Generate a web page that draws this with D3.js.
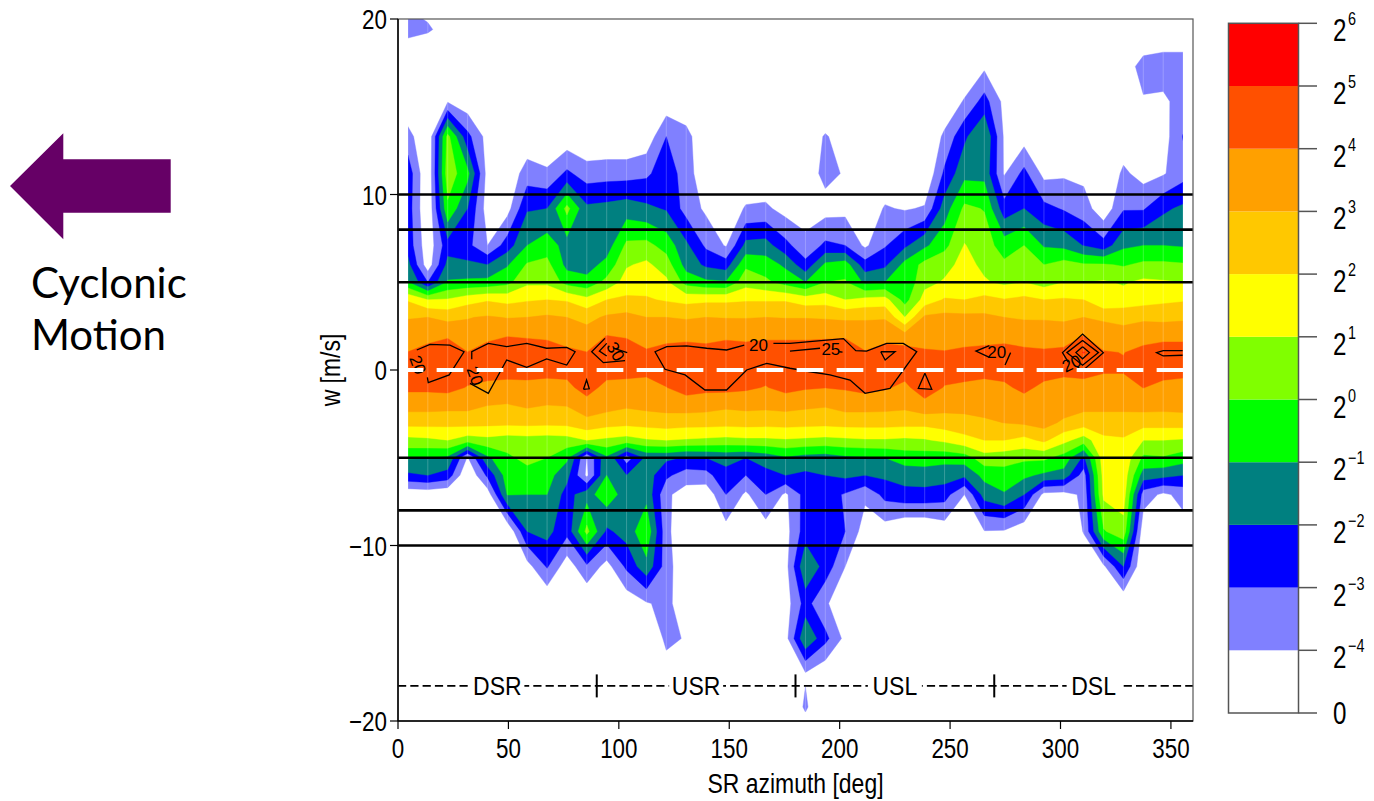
<!DOCTYPE html>
<html>
<head>
<meta charset="utf-8">
<script src="https://cdn.jsdelivr.net/npm/d3@7"></script>
<style>
  body { margin: 0; background: #fff; }
  text { font-family: "Liberation Sans", Arial, sans-serif; fill: #000; }
</style>
</head>
<body>
<svg id="chart" width="1374" height="801"></svg>
<script>
// grid column centres (deg) and grid rows (m/s), top to bottom
const azimuths = [4.5, 13.5, 22.5, 31.5, 40.5, 49.5, 58.5, 67.5, 76.5, 85.5,
  94.5, 103.5, 112.5, 121.5, 130.5, 139.5, 148.5, 157.5, 166.5, 175.5,
  184.5, 193.5, 202.5, 211.5, 220.5, 229.5, 238.5, 247.5, 256.5, 265.5,
  274.5, 283.5, 292.5, 301.5, 310.5, 319.5, 328.5, 337.5, 346.5, 355.5];
const wRows = [21.4, 19.4, 17.3, 15.3, 13.3, 11.2, 9.2, 7.1, 6, 5, 4, 3, 2, 1, 0,
  -1, -2, -3, -4, -5, -6, -7.1, -9.2, -11.2, -13.3, -15.3, -17.3, -19.2, -21.4];

// log2(frequency) + 5, one row per wRows entry
const densityGrid = [
  [0.8,0.6,0,0,0,0,0,0,0,0, 0,0,0,0,0,0,0,0,0,0, 0,0,0,0,0,0,0,0,0,0, 0,0,0,0,0,0,0,0,0,0],
  [1.3,1.1,0.7,0,0,0,0,0,0,0, 0,0,0,0,0,0,0,0,0,0, 0,0,0,0,0,0,0,0,0,0, 0,0,0,0,0,0,0,0,0.2,0.2],
  [0,0,0,0,0,0,0,0,0,0, 0,0,0,0,0,0,0,0,0,0, 0,0,0,0,0,0,0,0,0.1,0.8, 0,0,0,0,0,0,0.4,1.4,1.5,1.5],
  [0,0,0.9,0.3,0,0,0,0,0,0, 0,0,0,0.3,0.1,0,0,0,0,0, 0,0,0,0,0,0,0,0.2,1.1,2.4, 0.7,0,0,0,0,0,0,0.9,0.8,1.4],
  [1.4,0,5.3,2.3,0.6,0,0.2,0,0.3,0, 0,0,0.3,2.0,1.4,0,0,0,0,0, 0.3,1.1,0.5,0,0,0,0,1.2,2.8,4.0, 0.85,0.5,0,0,0,0,0.3,0.2,0.5,2.05],
  [2.6,0,5.6,4.3,0.6,0.2,1.5,1.2,2.2,1.5, 1.6,1.6,1.8,2.6,1.5,0.2,0,0.2,0.1,0, 0.4,1.3,0.9,0,0.2,0,0,2.2,3.7,3.7, 0.9,2.3,0.7,0.85,0.7,0,1.2,0.6,0.9,1.6],
  [2.5,0,4.8,3.0,0.5,0.6,2.9,3.0,5.3,3.2, 3.3,3.5,3.2,2.9,1.6,0.8,0.3,1.1,1.2,0.6, 0.5,0.6,0.7,0.2,1.1,0.9,1.1,3.5,5.2,4.95, 2.4,3.0,2.3,1.9,1.5,0.3,1.9,1.9,2.8,3.2],
  [2.6,0.3,2.6,2.3,1.0,2.5,4.0,4.5,3.6,3.8, 3.5,5.2,5.3,4.6,3.2,1.8,0.9,3.3,3.4,2.3, 1.3,2.2,2.0,0.8,1.9,2.8,3.8,4.7,6.05,5.5, 4.5,5.0,3.9,3.7,2.95,2.4,3.8,4.0,4.0,3.9],
  [3.3,0.4,3.3,3.2,3.0,3.9,5.1,5.3,3.7,3.6, 4.3,5.9,6.2,5.5,3.6,2.8,2.5,4.8,4.5,3.8, 2.3,4.2,4.5,2.4,2.8,4.3,5.3,5.7,6.3,5.8, 5.2,5.5,5.0,5.4,5.1,5.1,4.9,5.2,5.2,5.1],
  [4.1,2.0,4.1,4.2,4.3,4.7,5.8,5.8,4.6,4.3, 5.3,6.4,6.6,6.2,4.6,4.2,4.1,5.6,5.2,4.6, 4.0,5.0,5.1,3.8,4.0,4.2,5.7,6.1,6.6,6.1, 5.8,6.0,5.6,6.0,6.0,6.1,5.9,6.2,6.1,6.0],
  [6.9,6.0,6.1,6.6,6.9,6.7,6.9,7.0,6.9,6.3, 7.0,7.2,7.1,6.9,6.7,6.8,6.8,6.9,6.9,6.9, 6.5,6.6,6.0,6.3,6.4,4.6,6.4,7.1,7.0,7.3, 7.05,7.25,7.0,7.1,7.0,6.1,6.4,6.6,6.8,6.9],
  [7.95,8.0,7.7,7.95,8.1,7.95,8.0,8.15,8.0,7.7, 8.15,8.3,8.0,8.0,7.9,8.0,7.95,7.95,8.0,7.95, 7.95,7.9,7.8,7.9,7.9,6.0,8.2,8.3,8.25,8.2, 8.0,7.9,7.9,7.8,8.0,7.85,7.7,7.8,7.7,7.8],
  [8.4,8.7,8.88,8.4,8.76,8.94,8.88,8.82,8.58,8.4, 8.98,8.88,8.52,8.7,8.76,8.7,8.82,8.76,8.82,8.82, 8.82,8.85,8.88,8.46,8.7,8.3,8.52,8.46,8.58,8.64, 8.7,8.58,8.52,8.58,8.98,8.46,8.35,8.64,8.76,8.76],
  [9.02,9.3,9.48,9.02,9.36,9.54,9.48,9.42,9.18,9.02, 9.6,9.48,9.12,9.3,9.36,9.3,9.42,9.36,9.42,9.42, 9.42,9.45,9.48,9.06,9.3,9.42,9.12,9.06,9.18,9.24, 9.3,9.18,9.12,9.18,10.05,9.06,8.98,9.24,9.36,9.36],
  [9.35,9.5,9.5,9.4,9.4,9.45,9.4,9.35,9.3,9.3, 9.4,9.4,9.2,9.4,9.5,9.45,9.45,9.4,9.4,9.45, 9.45,9.4,9.45,9.45,9.4,9.35,9.5,9.35,9.3,9.3, 9.3,9.35,9.35,9.2,9.25,9.1,9.1,9.4,9.35,9.3],
  [9.2,9.2,9.3,8.95,8.75,8.6,8.7,8.6,8.75,9.4, 8.7,8.6,8.7,8.98,9.4,9.25,9.3,9.15,8.95,9.3, 9.1,9.02,9.1,9.3,9.1,8.8,9.5,8.95,8.85,8.7, 8.85,9.2,8.8,8.7,8.75,8.6,8.6,9.02,8.75,8.65],
  [8.4,8.4,8.35,8.3,8.02,7.95,8.15,8.0,8.05,8.6, 8.4,8.15,8.3,8.4,8.5,8.4,8.2,8.3,8.25,8.35, 8.2,8.1,8.4,8.4,8.35,8.25,8.7,8.4,8.4,8.5, 8.6,8.6,8.55,8.6,8.3,8.3,8.3,8.4,8.35,8.4],
  [7.35,7.35,7.3,7.4,7.3,7.25,7.3,7.25,7.3,7.7, 7.4,7.3,7.4,7.5,7.4,7.4,7.35,7.4,7.35,7.4, 7.35,7.3,7.4,7.4,7.4,7.35,7.3,7.5,7.6,7.8, 8.02,8.15,8.4,7.8,7.5,7.5,7.5,7.4,7.4,7.45],
  [5.7,5.8,6.0,5.5,5.7,5.5,5.6,5.5,5.6,6.0, 5.8,5.6,5.9,6.0,5.9,5.8,5.7,5.8,5.8,5.9, 5.8,5.7,5.8,5.9,5.9,5.8,5.9,6.2,6.7,7.0, 7.0,6.7,7.2,6.3,5.5,6.8,6.9,6.0,6.0,5.9],
  [4.1,4.0,3.8,0.9,3.8,4.8,5.3,5.0,4.2,0.95, 3.8,1.5,3.2,3.2,2.9,3.0,3.2,3.0,3.4,3.9, 3.6,3.5,3.8,3.9,4.0,4.4,4.4,4.3,4.5,5.6, 5.4,5.2,5.2,4.6,2.8,6.6,6.7,4.8,4.9,4.5],
  [2.8,3.0,2.6,0,2.2,4.5,4.6,4.4,3.3,0.8, 4.0,3.0,3.5,2.2,1.5,1.6,2.8,2.0,2.7,3.0, 2.8,3.0,3.2,3.0,3.2,3.5,3.6,3.5,3.2,4.3, 4.6,4.2,3.8,3.6,1.5,6.4,6.6,3.5,3.3,3.0],
  [0.2,0.3,0.1,0,0.4,4.05,4.0,4.0,2.6,3.6, 4.6,3.5,3.7,1.2,0.5,0.3,2.0,0.8,2.0,0.8, 2.4,2.4,1.9,1.2,2.3,2.6,2.6,2.4,1.0,3.4, 3.9,3.0,0.7,0.6,1.2,6.2,6.5,1.5,0.8,1.3],
  [0,0,0,0,0,0,3.0,3.3,2.3,5.3, 2.8,3.4,4.8,1.3,0,0,0.6,0,0.5,0.6, 2.5,2.5,2.0,0.5,0.5,0,0,0.4,0,0.95, 0.9,0.3,0,0,1.05,4.9,5.6,0.3,0,0.6],
  [0,0,0,0,0,0,0.6,2.1,0.4,1.8, 0.6,2.2,3.7,1.5,0,0,0,0,0,0.6, 3.9,2.6,1.0,0,0,0,0,0,0,0, 0,0,0,0,0.3,0.8,3.0,0,0,0],
  [0,0,0,0,0,0,0,0,0,0, 0,0.3,0.9,1.3,0.3,0,0,0,0,0.5, 2.4,1.1,0.5,0,0,0,0,0,0,0, 0,0,0,0,0,0,0,0,0,0],
  [0,0,0,0,0,0,0,0,0,0, 0,0,0.3,1.15,0.95,0,0,0,0,0.6, 3.9,2.3,0.7,0,0,0,0,0,0,0, 0,0,0,0,0,0,0,0,0,0],
  [0,0,0,0,0,0,0,0,0,0, 0,0,0,0.7,0.2,0,0,0,0,0.2, 0.9,0.2,0,0,0,0,0,0,0,0, 0,0,0,0,0,0,0,0,0,0],
  [0,0,0,0,0,0,0,0,0,0, 0,0,0,0,0,0,0,0,0,0, 1.15,0,0,0,0,0,0,0,0,0, 0,0,0,0,0,0,0,0,0,0],
  [0,0,0,0,0,0,0,0,0,0, 0,0,0,0,0,0,0,0,0,0, 0,0,0,0,0,0,0,0,0,0, 0,0,0,0,0,0,0,0,0,0]
];

// filled contour levels: 2^-4 ... 2^5 (as log2 + 5) and their colours
const levels = [1, 2, 3, 4, 5, 6, 7, 8, 9, 10];
const bandColors = ["#8080ff", "#0000ff", "#008080", "#00ff00", "#80ff00",
  "#ffff00", "#ffc800", "#ffa000", "#ff5000", "#ff0000"];
const legendExponents = [-4, -3, -2, -1, 0, 1, 2, 3, 4, 5, 6];

// black overlay contours, [azimuth, w]
const contourLines = [
  [[8.5,1.14],[14.5,1.46],[23.5,1.42],[29.9,1.04],[23.2,-0.28],[13.7,-0.72],[13.3,-0.42]],
  [[33.4,0.61],[33.4,1.04],[40.9,1.52],[49.2,1.33],[58.3,1.52],[67.3,1.24],[76.4,1.29],[80.2,1.04],
   [76.4,0.28],[67.3,0.63],[58.3,0.15],[49.2,0.57],[40.9,-1.33],[32.6,-0.76]],
  [[84.0,-1.1],[85.4,-0.57],[86.6,-1.07],[84.0,-1.1]],
  [[93.7,1.8],[87.7,1.04],[93.0,0.42],[102.8,0.53]],
  [[103.8,0.99],[97.5,1.24]],
  [[94.5,1.52],[91.2,1.08],[94.5,0.8]],
  [[170,1.52],[177.5,1.52],[201.7,1.79],[207.3,1.1],[212.2,1.08],[221.3,1.52],[228.8,1.52],[234.9,1.04],
   [222.8,-1.05],[211.5,-1.33],[204.7,-0.57],[195.6,-0.28],[186.6,-0.1],[177.5,0.1],[167,0.38],[157.9,0],
   [148.8,-1.14],[139,-1.14],[130,-0.28],[120.9,0.04],[116.4,1.04],[121.7,1.33],[130.7,1.37],[139.8,1.24],
   [148.8,1.14],[156.8,1.42]],
  [[177.5,1.08],[191.1,1.24]],
  [[199.8,1.04],[201.3,1.02]],
  [[218.6,1.04],[225.1,1.04],[220.6,0.57],[218.6,1.04]],
  [[238.6,-0.19],[235.6,-1.05],[241.7,-1.1],[238.6,-0.19]],
  [[267.8,1.39],[261.7,1.08],[267.8,0.72]],
  [[277.4,0.99],[274.9,0.28]],
  [[303.5,0.45],[300.9,0.99],[310,2.05],[319.4,0.99],[310,-0.04],[307.5,0.2]],
  [[310,1.68],[317.2,0.99],[310,0.27],[302.9,0.99],[310,1.68]],
  [[310,1.33],[313.1,0.99],[310,0.64],[307.0,0.99],[310,1.33]],
  [[355.3,1.1],[346.5,1.1],[343.5,0.99],[346.5,0.8],[355.3,0.84]]
];
const contourLabels = [
  { text: "20", az: 9.0, w: 0.3, rot: 70 },
  { text: "20", az: 34.9, w: -0.34, rot: 70 },
  { text: "30", az: 98.6, w: 1.05, rot: 60 },
  { text: "20", az: 163.2, w: 1.42, rot: 0 },
  { text: "25", az: 196.0, w: 1.2, rot: 0 },
  { text: "20", az: 271.1, w: 1.04, rot: 0 },
  { text: "20", az: 305.0, w: 0.38, rot: -25 }
];

const xTicks = [0, 50, 100, 150, 200, 250, 300, 350];
const yTicks = [-20, -10, 0, 10, 20];
const refLines = [10, 8, 5, -5, -8, -10];
const sectorNames = ["DSR", "USR", "USL", "DSL"];
const sectorCentres = [45, 135, 225, 315];
const sectorBounds = [90, 180, 270];
const sectorW = -18;

const svg = d3.select("#chart");
const x = d3.scaleLinear().domain([0, 360]).range([398, 1193]);
const y = d3.scaleLinear().domain([-20, 20]).range([721, 19]);

function label(g, tx, ty, txt, size, sx, anchor) {
  return g.append("text")
    .attr("transform", `translate(${tx},${ty}) scale(${sx},1)`)
    .attr("text-anchor", anchor || "middle")
    .style("font-size", size + "px")
    .text(txt);
}

// clip to the data extent
svg.append("clipPath").attr("id", "dataClip")
  .append("rect")
  .attr("x", x(azimuths[0])).attr("y", y(20))
  .attr("width", x(azimuths[azimuths.length - 1]) - x(azimuths[0]))
  .attr("height", y(-20) - y(20));

// filled contours
const nx = azimuths.length, ny = wRows.length;
const gx = d3.scaleLinear().domain([0.5, nx - 0.5]).range([azimuths[0], azimuths[nx - 1]]);
const gy = d3.scaleLinear().domain(wRows.map((d, j) => j + 0.5)).range(wRows);
const proj = d3.geoTransform({
  point: function(px, py) { this.stream.point(x(gx(px)), y(gy(py))); }
});
const path = d3.geoPath(proj);
const bands = d3.contours().size([nx, ny]).thresholds(levels)(densityGrid.flat());

const plot = svg.append("g").attr("clip-path", "url(#dataClip)");
plot.selectAll("path.band")
  .data(bands)
  .enter().append("path")
  .attr("class", "band")
  .attr("d", path)
  .attr("fill", (d, i) => bandColors[i])
  .attr("stroke", (d, i) => bandColors[i])
  .attr("stroke-width", 0.4);

// faint seams at the grid columns
plot.selectAll("line.seam")
  .data(azimuths)
  .enter().append("line")
  .attr("class", "seam")
  .attr("x1", d => x(d)).attr("x2", d => x(d))
  .attr("y1", y(20)).attr("y2", y(-20))
  .attr("stroke", "#fff").attr("stroke-opacity", 0.22).attr("stroke-width", 1);

// black contour lines and labels
const line = d3.line().x(d => x(d[0])).y(d => y(d[1]));
plot.selectAll("path.cline")
  .data(contourLines)
  .enter().append("path")
  .attr("class", "cline")
  .attr("d", line)
  .attr("fill", "none").attr("stroke", "#000").attr("stroke-width", 1.3);

contourLabels.forEach(d => {
  svg.append("text")
    .attr("transform", `translate(${x(d.az)},${y(d.w)}) rotate(${d.rot})`)
    .attr("text-anchor", "middle").attr("dy", "0.35em")
    .style("font-size", "17px")
    .text(d.text);
});

// reference lines
svg.selectAll("line.ref")
  .data(refLines)
  .enter().append("line")
  .attr("x1", x(0)).attr("x2", x(360))
  .attr("y1", d => y(d)).attr("y2", d => y(d))
  .attr("stroke", "#000").attr("stroke-width", 2.6);

// zero line
svg.append("line")
  .attr("x1", x(azimuths[0])).attr("x2", x(azimuths[nx - 1]))
  .attr("y1", y(0)).attr("y2", y(0))
  .attr("stroke", "#fff").attr("stroke-width", 4)
  .attr("stroke-dasharray", "26.7 13.3").attr("stroke-dashoffset", 11.3);

// storm-relative sectors along w = -18
const sy = y(sectorW);
svg.append("line")
  .attr("x1", x(0)).attr("x2", x(360)).attr("y1", sy).attr("y2", sy)
  .attr("stroke", "#000").attr("stroke-width", 1.6).attr("stroke-dasharray", "8.2 4.1");
sectorCentres.forEach((c, i) => {
  svg.append("rect")
    .attr("x", x(c) - 27).attr("y", sy - 14).attr("width", 54).attr("height", 28)
    .attr("fill", "#fff");
  label(svg, x(c), sy + 9, sectorNames[i], 25, 0.92);
});
svg.selectAll("line.sect")
  .data(sectorBounds)
  .enter().append("line")
  .attr("x1", d => x(d)).attr("x2", d => x(d))
  .attr("y1", sy - 11.5).attr("y2", sy + 11.5)
  .attr("stroke", "#000").attr("stroke-width", 2);

// frame and axes
svg.append("rect")
  .attr("x", x(0)).attr("y", y(20)).attr("width", x(360) - x(0)).attr("height", y(-20) - y(20))
  .attr("fill", "none").attr("stroke", "#555").attr("stroke-width", 1.2);
svg.append("line").attr("x1", x(0)).attr("x2", x(0)).attr("y1", y(20)).attr("y2", y(-20))
  .attr("stroke", "#000").attr("stroke-width", 1.5);
svg.append("line").attr("x1", x(0)).attr("x2", x(360)).attr("y1", y(-20)).attr("y2", y(-20))
  .attr("stroke", "#000").attr("stroke-width", 1.5);

xTicks.forEach(t => {
  svg.append("line").attr("x1", x(t)).attr("x2", x(t)).attr("y1", y(-20)).attr("y2", y(-20) + 8)
    .attr("stroke", "#000").attr("stroke-width", 1.2);
  label(svg, x(t), 758, String(t), 28, 0.8);
});
yTicks.forEach(t => {
  svg.append("line").attr("x1", x(0) - 8).attr("x2", x(0)).attr("y1", y(t)).attr("y2", y(t))
    .attr("stroke", "#000").attr("stroke-width", 1.2);
  label(svg, 387, y(t) + 10, t < 0 ? "\u2212" + Math.abs(t) : String(t), 28, 0.8, "end");
});
label(svg, 795.5, 793, "SR azimuth [deg]", 28, 0.82);
svg.append("text")
  .attr("transform", "translate(340,370) rotate(-90) scale(0.82,1)")
  .attr("text-anchor", "middle").style("font-size", "28px")
  .text("w [m/s]");

// colour bar
const cb = d3.scaleLinear().domain([0, 11]).range([713, 23.3]);
const cbColors = ["#ffffff"].concat(bandColors);
cbColors.forEach((c, k) => {
  svg.append("rect")
    .attr("x", 1228.5).attr("y", cb(k + 1)).attr("width", 70).attr("height", cb(k) - cb(k + 1))
    .attr("fill", c);
});
svg.append("rect")
  .attr("x", 1228.5).attr("y", cb(11)).attr("width", 70).attr("height", cb(0) - cb(11))
  .attr("fill", "none").attr("stroke", "#555").attr("stroke-width", 1.5);
d3.range(12).forEach(k => {
  svg.append("line").attr("x1", 1298.5).attr("x2", 1317).attr("y1", cb(k)).attr("y2", cb(k))
    .attr("stroke", "#555").attr("stroke-width", 1.5);
});
label(svg, 1333, cb(0) + 11, "0", 31, 0.78, "start");
legendExponents.forEach((e, k) => {
  const ty = cb(k + 1);
  label(svg, 1333, ty + 18, "2", 31, 0.78, "start");
  label(svg, 1348, ty + 2, e < 0 ? "\u2212" + Math.abs(e) : String(e), 18, 0.8, "start");
});

// cyclonic motion arrow
const arrowPts = [[10, 186], [63.3, 133.3], [63.3, 159.3], [170.7, 159.3], [170.7, 212.7], [63.3, 212.7], [63.3, 239.3]];
svg.append("polygon")
  .attr("points", arrowPts.map(p => p.join(",")).join(" "))
  .attr("fill", "#660066");
svg.append("text").attr("x", 31).attr("y", 298)
  .style("font-family", "Lato, 'Open Sans', sans-serif").style("font-size", "42px")
  .text("Cyclonic");
svg.append("text").attr("x", 31).attr("y", 350)
  .style("font-family", "Lato, 'Open Sans', sans-serif").style("font-size", "42px")
  .text("Motion");
</script>
</body>
</html>
